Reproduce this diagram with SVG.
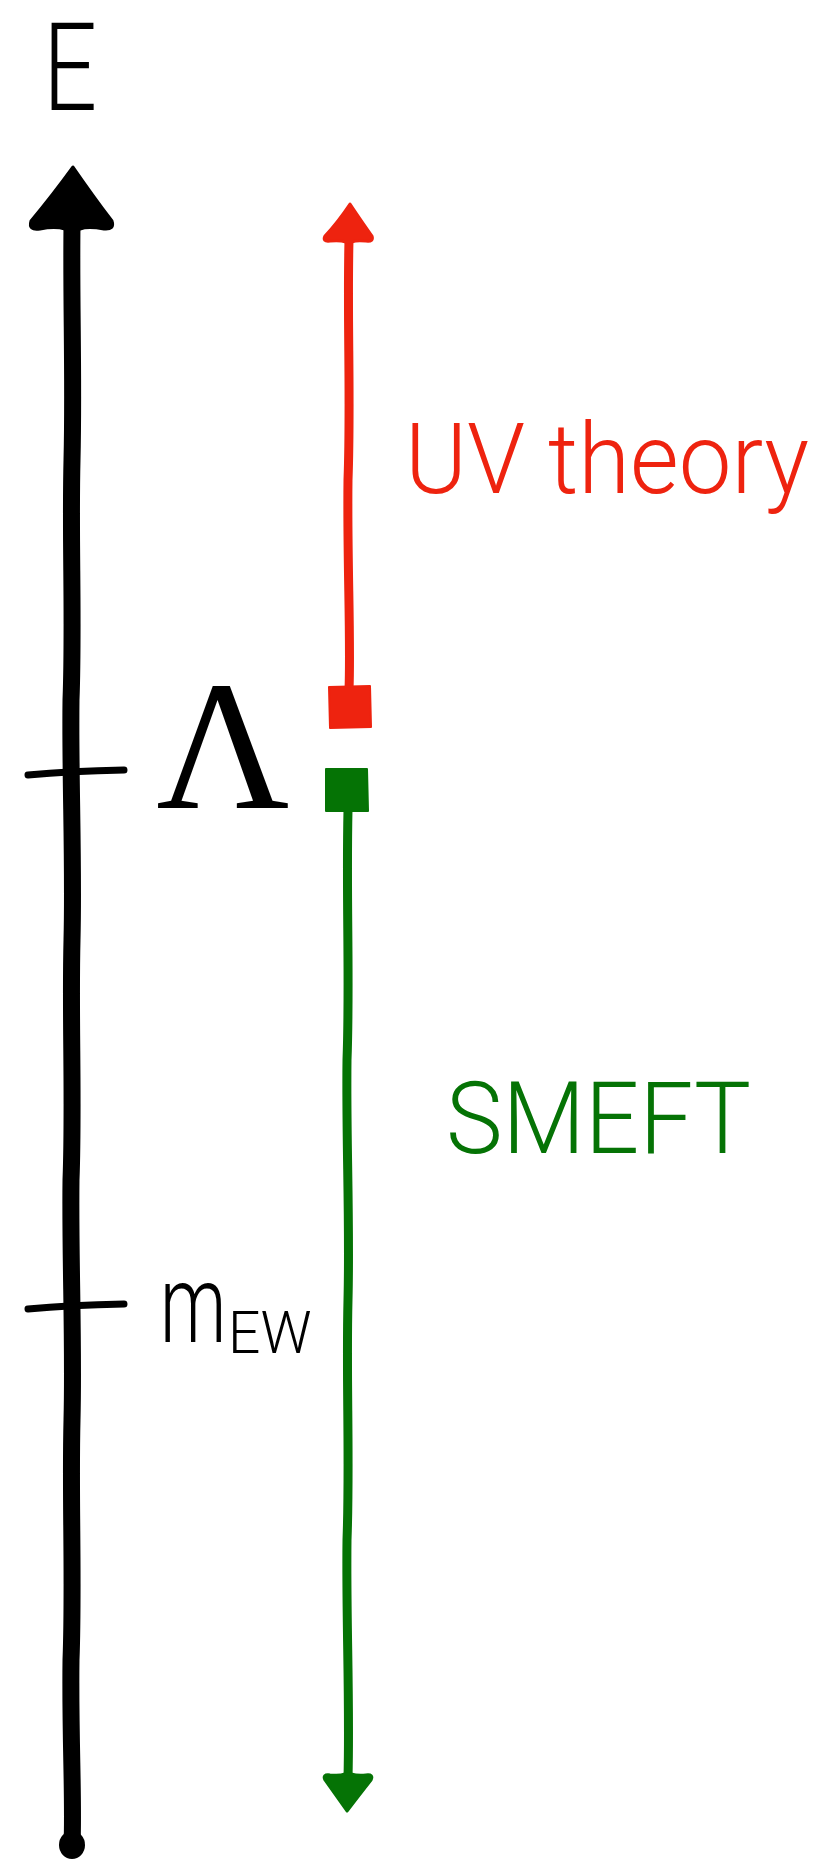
<svg xmlns="http://www.w3.org/2000/svg" width="826" height="1861" viewBox="0 0 826 1861">
<style>
.axis{fill:none;stroke:#000;stroke-width:17;stroke-linecap:round;stroke-linejoin:round}
.tick{fill:none;stroke:#000;stroke-width:7;stroke-linecap:round}
.red{fill:#EE230F;stroke:#EE230F;stroke-linejoin:round}
.green{fill:#057305;stroke:#057305;stroke-linejoin:round}
.redline{fill:none;stroke:#EE230F;stroke-width:9;stroke-linecap:round}
.greenline{fill:none;stroke:#057305;stroke-width:9;stroke-linecap:round}
.hand{font-family:Roboto,"DejaVu Sans",sans-serif;font-weight:300;fill:#000}
.thin{font-family:Roboto,"Liberation Sans",sans-serif;font-weight:300}
</style>
<rect width="826" height="1861" fill="#fff"/>
<g id="connectors">
  <path class="axis" d="M72,226 C71,300 74,380 72,460 C70,540 74,620 71,700 C70,780 74,860 72,940 C70,1020 74,1100 71,1180 C70,1260 74,1340 72,1420 C70,1500 74,1580 71,1660 C70,1740 74,1800 72,1845"/>
  <ellipse cx="72" cy="1845" rx="13" ry="14" fill="#000"/>
  <path fill="#000" stroke="#000" stroke-width="3" stroke-linejoin="round" d="M73,167 Q93,196 112,221 Q115,230 104,229 Q88,226 80,229 L65,229 Q55,226 40,229 Q28,231 31,221 Q52,196 73,167 Z"/>
  <path class="redline" d="M349,240 C347,320 351,400 348,480 C347,560 351,640 349,690"/>
  <path class="red" stroke-width="3" d="M350,204 Q362,222 372,236 Q374,242 366,241 Q356,240 352,242 L346,242 Q340,240 330,241 Q322,242 325,236 Q338,222 350,204 Z"/>
  <path class="greenline" d="M348,810 C346,900 350,980 347,1060 C346,1140 350,1220 348,1300 C346,1380 350,1460 347,1540 C346,1620 350,1700 348,1778"/>
  <path class="green" stroke-width="3" d="M347,1811 Q335,1794 325,1780 Q322,1774 330,1775 Q340,1776 345,1774 L351,1774 Q358,1776 366,1775 Q374,1774 371,1780 Q360,1794 347,1811 Z"/>
</g>
<g id="label-E">
  <text class="hand" x="70" y="110" font-size="122" text-anchor="middle" transform="translate(70,0) scale(0.78,1) translate(-70,0)">E</text>
</g>
<g id="tick-lambda">
  <path class="tick" d="M28,775 Q70,771 124,770"/>
</g>
<g id="label-lambda">
  <text x="223" y="808" font-family="Liberation Serif, serif" font-size="184" text-anchor="middle" fill="#000">Λ</text>
</g>
<g id="tick-mew">
  <path class="tick" d="M28,1309 Q70,1305 124,1304"/>
</g>
<g id="label-mew">
  <text class="hand" font-size="110" transform="translate(160,1342) scale(0.68,1)">m</text>
  <text class="hand" font-size="60" transform="translate(228,1353) scale(0.95,1)">EW</text>
</g>
<g id="uv-bar">
  <path class="red" stroke-width="2" d="M329,687 L370,686 L371,727 L330,728 Z"/>
  <text class="thin" x="405" y="493" font-size="99" fill="#EE230F" textLength="404" lengthAdjust="spacingAndGlyphs">UV theory</text>
</g>
<g id="smeft-bar">
  <path class="green" stroke-width="2" d="M326,769 L367,769 L368,811 L326,811 Z"/>
  <text class="thin" x="446" y="1153" font-size="100" fill="#057305" textLength="305" lengthAdjust="spacingAndGlyphs">SMEFT</text>
</g>
</svg>
